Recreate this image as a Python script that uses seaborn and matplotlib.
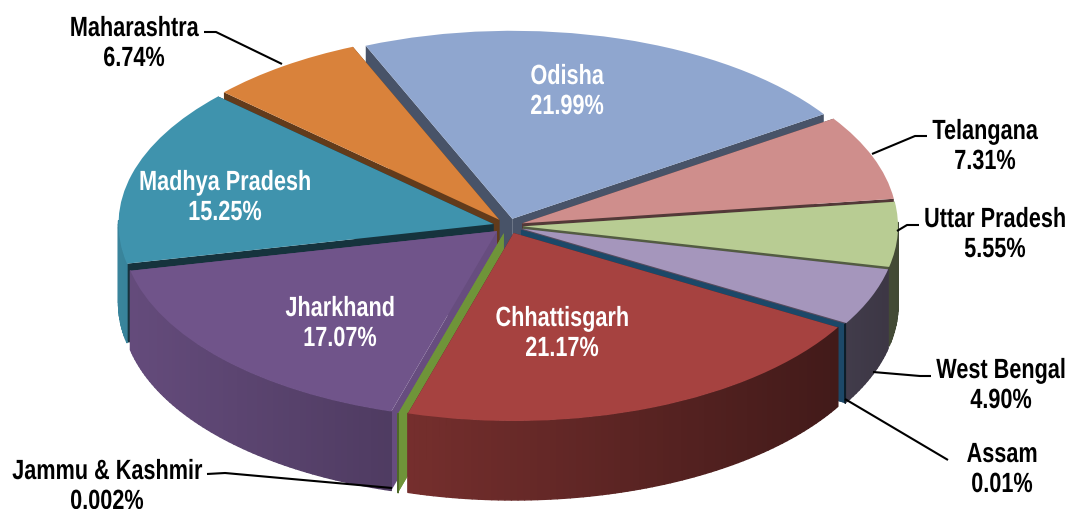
import numpy as np
import seaborn as sns
import matplotlib.pyplot as plt
from matplotlib.collections import PolyCollection
from matplotlib.colors import to_rgb
from matplotlib.patheffects import AbstractPathEffect
from matplotlib.transforms import Affine2D, Bbox
from matplotlib.text import Text

# slices, clockwise from the top left
states = ['Odisha', 'Telangana', 'Uttar Pradesh', 'West Bengal', 'Assam',
          'Chhattisgarh', 'Jammu & Kashmir', 'Jharkhand', 'Madhya Pradesh', 'Maharashtra']
shares = [21.99, 7.31, 5.55, 4.90, 0.01, 21.17, 0.002, 17.07, 15.25, 6.74]
share_labels = ['21.99%', '7.31%', '5.55%', '4.90%', '0.01%',
                '21.17%', '0.002%', '17.07%', '15.25%', '6.74%']

colors = ['#8FA6CF', '#CF8E8C', '#B8CC93', '#A596BC', '#1C4868',
          '#A64240', '#6F9439', '#70548A', '#3F93AD', '#D9823B']
cut_shade = [0.5, 0.4, 0.45, 0.5, 1.0, 0.5, 1.0, 0.92, 0.35, 0.45]
draw_order = [0, 9, 1, 8, 2, 3, 4, 7, 6, 5]

W, H = 1069, 510
CX, CY = 508, 227      # pie centre in pixels
RX, RY = 375, 188      # pixels per unit
DEPTH = 79 / RY
SQUEEZE = 0.78

# label centre (pixels), text colour, leader line (pixels)
labels = {
    'Odisha': (567, 93, 'white', None),
    'Telangana': (985, 148, 'black', [(927, 137), (915, 137), (872, 155)]),
    'Uttar Pradesh': (995, 236, 'black', [(919, 226), (907, 226), (897, 232)]),
    'West Bengal': (1001, 387, 'black', [(931, 377), (920, 377), (873, 373)]),
    'Assam': (1002, 471, 'black', [(948, 461), (845, 400)]),
    'Chhattisgarh': (562, 335, 'white', None),
    'Jammu & Kashmir': (107, 488, 'black', [(207, 475), (225, 474), (392, 489)]),
    'Jharkhand': (340, 325, 'white', None),
    'Madhya Pradesh': (225, 199, 'white', None),
    'Maharashtra': (134, 45, 'black', [(204, 33), (216, 33), (282, 65)]),
}


class Condense(AbstractPathEffect):
    # the reference text is squeezed sideways, no condensed font is installed
    def __init__(self, x_center, factor):
        super().__init__()
        self.x_center = x_center
        self.factor = factor

    def draw_path(self, renderer, gc, tpath, affine, rgbFace=None):
        squeeze = Affine2D().translate(-self.x_center, 0).scale(self.factor, 1).translate(self.x_center, 0)
        renderer.draw_path(gc, tpath, affine + squeeze, rgbFace)


class SqueezedText(Text):
    # report the box of what is really drawn
    def get_window_extent(self, renderer=None, dpi=None):
        box = super().get_window_extent(renderer, dpi)
        xc = (box.x0 + box.x1) / 2
        return Bbox([[xc + (box.x0 - xc) * SQUEEZE, box.y0], [xc + (box.x1 - xc) * SQUEEZE, box.y1]])


def px(x, y):
    return (x - CX) / RX, (CY - y) / RY


def shade(color, f):
    return tuple(min(1, c * f) for c in to_rgb(color))


sns.set_theme(style='white')
plt.rcParams['font.family'] = ['Liberation Sans']

fig = plt.figure(figsize=(W / 100, H / 100), dpi=100)
ax = fig.add_axes([0, 0, 1, 1])

wedges, _ = ax.pie(shares, colors=sns.color_palette(colors), startangle=113, counterclock=False,
                   explode=[0.04] * len(shares), wedgeprops={'linewidth': 0})

# flatten the circle into the tilted ellipse
ax.set_aspect('auto')
ax.set_xlim(px(0, 0)[0], px(W, 0)[0])
ax.set_ylim(px(0, H)[1], px(0, 0)[1])
ax.axis('off')

# painter's order, back slices first
for rank, i in enumerate(draw_order):
    w = wedges[i]
    z = 2 + rank * 2
    cx, cy = w.center
    w.set_zorder(z + 1)

    # cut faces on both radial edges
    for theta in (w.theta1, w.theta2):
        a = np.radians(theta)
        ox, oy = cx + w.r * np.cos(a), cy + w.r * np.sin(a)
        ax.fill([cx, ox, ox, cx], [cy, oy, oy - DEPTH, cy - DEPTH],
                color=shade(colors[i], cut_shade[i]), lw=0, zorder=z)

    # outer wall as thin strips, darker to the right
    n = max(2, int(w.theta2 - w.theta1))
    ang = np.radians(np.linspace(w.theta1, w.theta2, n + 1))
    quads, fc = [], []
    for a0, a1 in zip(ang[:-1], ang[1:]):
        if np.sin((a0 + a1) / 2) > 0.02:
            continue
        x0, y0 = cx + w.r * np.cos(a0), cy + w.r * np.sin(a0)
        x1, y1 = cx + w.r * np.cos(a1), cy + w.r * np.sin(a1)
        quads.append([(x0, y0), (x1, y1), (x1, y1 - DEPTH), (x0, y0 - DEPTH)])
        fc.append(shade(colors[i], 0.63 - 0.27 * np.cos((a0 + a1) / 2)))
    if quads:
        ax.add_collection(PolyCollection(quads, facecolors=fc, edgecolors=fc, linewidths=1.0, zorder=z + 0.5))

for i, name in enumerate(states):
    x, y, color, leader = labels[name]
    t = SqueezedText(*px(x, y), f'{name}\n{share_labels[i]}', color=color, ha='center', va='center',
                     fontsize=20, fontweight='bold', linespacing=1.2, zorder=50)
    t.set_path_effects([Condense(x, SQUEEZE)])
    ax.add_artist(t)
    if leader:
        pts = np.array([px(*p) for p in leader])
        ax.plot(pts[:, 0], pts[:, 1], color='black', lw=1.5, zorder=49, solid_capstyle='butt')

fig.savefig('out.png', dpi=100, facecolor='white')
